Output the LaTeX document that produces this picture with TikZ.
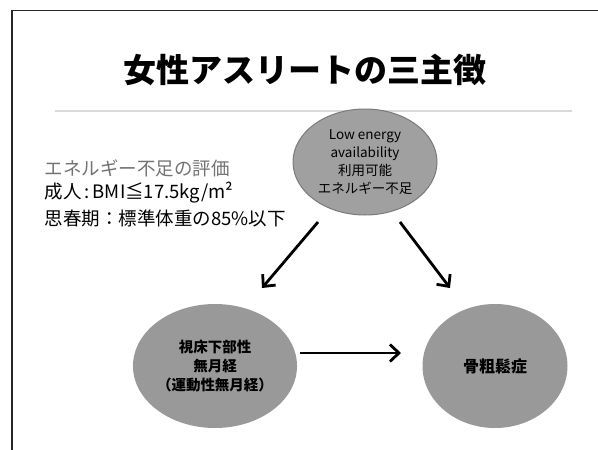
\documentclass[tikz,border=0pt]{standalone}
\usepackage{fontspec}
\setmainfont{Noto Sans CJK JP}
\usetikzlibrary{arrows.meta,shapes.geometric}
\definecolor{ellfill}{HTML}{A0A0A0}
\definecolor{ellline}{HTML}{7A7A7A}
\definecolor{bfill}{HTML}{999999}
\tikzset{
  oval/.style={ellipse, fill=bfill, inner sep=0pt, align=center, text=black},
  arr/.style={line width=2.8pt, -{Straight Barb[length=9pt,width=17pt]}},
  lefttxt/.style={anchor=west, font=\fontsize{18.5}{22}\selectfont},
}
\begin{document}
\begin{tikzpicture}[x=1pt,y=-1pt]
\useasboundingbox (0,0) rectangle (598,450);
\fill[white] (0,0) rectangle (598,450);
% frame
\draw[line width=1.2pt, black!85] (12,450) -- (12,10.5) -- (598,10.5);
% title
\node[font=\fontsize{33}{36}\selectfont\bfseries] (title) at (305,70) {女性アスリートの三主徴};
% separator
\draw[line width=1.2pt, black!15] (55,111) -- (572,111);
% top ellipse
\node[oval, fill=ellfill, draw=ellline, line width=1pt, minimum width=144pt, minimum height=106pt,
  font=\fontsize{13.5}{18}\selectfont] (top) at (365,162)
  {Low energy\\ availability\\ 利用可能\\ エネルギー不足};
% bottom ellipses
\node[oval, minimum width=145pt, minimum height=124pt, font=\fontsize{14.5}{19}\selectfont\bfseries] (bl) at (215,366)
  {視床下部性\\ 無月経\\ （運動性無月経）};
\node[oval, minimum width=145pt, minimum height=124pt, font=\fontsize{16}{19}\selectfont\bfseries] (br) at (495,366)
  {骨粗鬆症};
% left text
\node[lefttxt, text=black!55] (t1) at (41,168) {エネルギー不足の評価};
\node[lefttxt] (t2) at (41,193) {成人\,:\,BMI≦17.5kg/m²};
\node[lefttxt] (t3) at (41,218) {思春期：標準体重の85\%以下};
% arrows
\coordinate (a1s) at (318,222); \coordinate (a1e) at (262,288);
\coordinate (a2s) at (400,222); \coordinate (a2e) at (450,288);
\coordinate (a3s) at (300,353); \coordinate (a3e) at (401,353);
\draw[arr] (a1s) -- (a1e);
\draw[arr] (a2s) -- (a2e);
\draw[arr] (a3s) -- (a3e);
\end{tikzpicture}
\end{document}
